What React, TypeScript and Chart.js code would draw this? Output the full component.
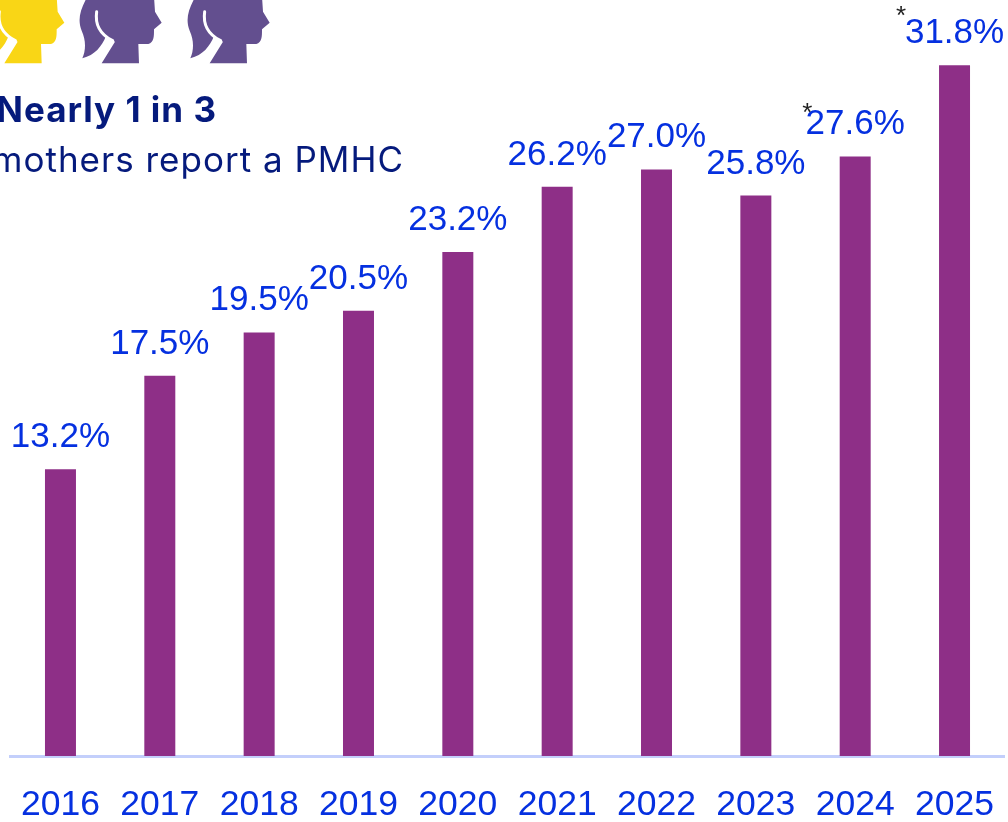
import React, { useEffect, useRef } from "react";
import { Chart, registerables } from "chart.js";

Chart.register(...registerables);

const years = ["2016", "2017", "2018", "2019", "2020", "2021", "2022", "2023", "2024", "2025"];
const rates = [13.2, 17.5, 19.5, 20.5, 23.2, 26.2, 27.0, 25.8, 27.6, 31.8];
const rateLabels = ["13.2%", "17.5%", "19.5%", "20.5%", "23.2%", "26.2%", "27.0%", "25.8%", "27.6%", "31.8%"];
const starredYears = ["2024", "2025"];
const headline = "Nearly 1 in 3";
const subhead = "mothers report a PMHC";

const BLUE = "#0530e0";
const FONT = "'Liberation Sans', Arial, sans-serif";

const headOutline =
  "M262,-10 C240,30 232,60 245,92 C258,120 258,150 247,175 C285,165 305,140 318,108 L345,125 L305,190 L417,190 L415,132 L445,132 C462,128 462,110 462,88 L485,68 L465,35 L462,-10 Z";
const headGap = "M290,35 C285,70 298,102 338,122";

const overlay = {
  id: "overlay",
  afterDatasetsDraw(chart: any) {
    const { ctx, scales } = chart;
    ctx.save();
    // value labels
    ctx.fillStyle = BLUE;
    ctx.font = `35px ${FONT}`;
    ctx.textAlign = "center";
    ctx.textBaseline = "alphabetic";
    rates.forEach((v, i) => {
      const x = scales.x.getPixelForValue(i);
      const y = scales.y.getPixelForValue(v);
      ctx.fillText(rateLabels[i], x, y - 22);
      if (starredYears.includes(years[i])) {
        ctx.save();
        ctx.fillStyle = "#222222";
        ctx.font = `26px ${FONT}`;
        const last = years[i] === "2025";
        ctx.fillText("*", x - (last ? 53.5 : 48), y - (last ? 41 : 35));
        ctx.restore();
      }
    });
    // head icons
    const head = (dx: number, color: string) => {
      ctx.save();
      ctx.scale(1 / 3, 1 / 3);
      ctx.translate(dx, 0);
      ctx.fillStyle = color;
      ctx.fill(new Path2D(headOutline));
      ctx.strokeStyle = "#ffffff";
      ctx.lineWidth = 9;
      ctx.lineCap = "round";
      ctx.stroke(new Path2D(headGap));
      ctx.restore();
    };
    head(-292, "#f9d616");
    head(0, "#634f8f");
    head(324, "#634f8f");
    // callout text
    ctx.textAlign = "right";
    ctx.fillStyle = "#051a7c";
    (ctx as any).letterSpacing = "1px";
    ctx.font = "700 35px Inter, sans-serif";
    ctx.fillText(headline, 217, 122);
    ctx.font = "400 35px Inter, sans-serif";
    ctx.fillText(subhead, 404, 172);
    ctx.restore();
  },
};

export default function App() {
  const ref = useRef<HTMLCanvasElement>(null);
  useEffect(() => {
    const chart = new Chart(ref.current as HTMLCanvasElement, {
      type: "bar",
      data: {
        labels: years,
        datasets: [
          {
            data: rates,
            backgroundColor: "#8e2f87",
            barPercentage: 0.312,
            categoryPercentage: 1,
          },
        ],
      },
      options: {
        responsive: false,
        animation: false,
        layout: { padding: { left: 10.8, right: 3.8, top: 0, bottom: 0 } },
        plugins: { legend: { display: false }, tooltip: { enabled: false } },
        scales: {
          x: {
            grid: { display: false, drawTicks: false },
            border: { color: "#c3cffb", width: 3 },
            ticks: {
              color: BLUE,
              font: { family: FONT, size: 35.5 },
              padding: 28,
              maxRotation: 0,
              autoSkip: false,
            },
            afterFit(axis: any) {
              axis.height = 66;
              axis.paddingLeft = 0;
              axis.paddingRight = 0;
            },
          },
          y: { display: false, min: 0, max: 34.8 },
        },
      },
      plugins: [overlay],
    } as any);
    return () => chart.destroy();
  }, []);
  return (
    <div style={{ position: "fixed", left: 0, top: 0, width: 1008, height: 822, background: "#fff", overflow: "hidden" }}>
      <canvas ref={ref} width={1008} height={822} style={{ display: "block" }} />
    </div>
  );
}
